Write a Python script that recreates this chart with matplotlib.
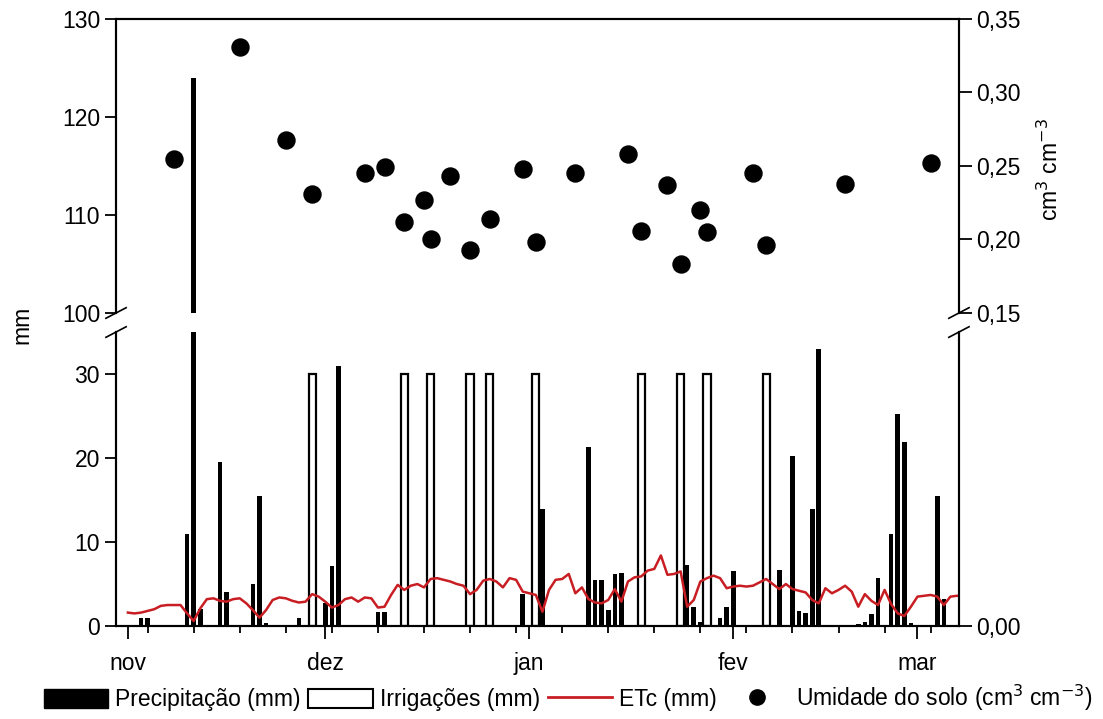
import matplotlib
matplotlib.use('Agg')
import matplotlib.pyplot as plt
from matplotlib.patches import Patch
from matplotlib.lines import Line2D

plt.rcParams['font.family'] = ['Liberation Sans', 'DejaVu Sans']
plt.rcParams['font.size'] = 16.5

# days counted from 1 November
month_days = [0, 30, 61, 92, 120]
month_labels = ['nov', 'dez', 'jan', 'fev', 'mar']

precip_days = [2, 3, 9, 10, 11, 14, 15, 19, 20, 21, 26, 30, 31, 32, 38, 39,
               60, 63, 70, 71, 72, 73, 74, 75, 85, 86, 87, 90, 91, 92, 93, 94,
               99, 101, 102, 103, 104, 105, 111, 112, 113, 114, 116, 117, 118,
               119, 123, 124]
precip_mm = [1.0, 0.9, 11.0, 124.0, 2.0, 19.5, 4.1, 5.0, 15.5, 0.4, 1.0, 2.7,
             7.1, 30.9, 1.7, 1.7, 3.8, 13.9, 21.3, 5.5, 5.5, 1.9, 6.2, 6.3,
             7.3, 2.3, 0.5, 1.0, 2.3, 6.6, 0.1, 0.1, 6.7, 20.3, 1.8, 1.6,
             13.9, 33.0, 0.2, 0.5, 1.4, 5.7, 10.9, 25.3, 21.9, 0.4, 15.5, 3.2]

irrig_days = [28, 42, 46, 52, 55, 62, 78, 84, 88, 97]
irrig_mm = [30, 30, 30, 30, 30, 30, 30, 30, 30, 30]

etc_mm = [1.6, 1.5, 1.6, 1.8, 2.0, 2.4, 2.5, 2.5, 2.5, 1.5, 0.6, 2.1, 3.2, 3.3,
          3.0, 2.9, 3.2, 3.3, 2.7, 1.9, 1.0, 1.9, 3.1, 3.4, 3.3, 3.0, 2.8, 2.9,
          3.8, 3.5, 2.9, 2.2, 2.5, 3.2, 3.4, 2.9, 3.4, 3.3, 2.2, 2.3, 3.7, 4.9,
          4.3, 4.8, 5.0, 4.6, 5.6, 5.7, 5.5, 5.3, 5.0, 4.8, 3.8, 4.3, 5.4, 5.6,
          5.3, 4.6, 5.7, 5.5, 4.1, 3.9, 3.7, 1.7, 4.3, 5.5, 5.6, 6.2, 3.9, 4.6,
          3.2, 2.8, 2.7, 3.1, 4.4, 2.9, 5.3, 5.8, 5.9, 6.6, 6.8, 8.4, 6.1, 6.2,
          6.5, 2.3, 3.1, 5.3, 5.7, 6.0, 5.7, 4.5, 4.7, 4.8, 4.7, 4.8, 5.2, 5.6,
          5.0, 4.4, 5.0, 4.4, 4.2, 4.0, 3.1, 2.7, 4.5, 3.9, 4.3, 4.8, 4.1, 2.3,
          3.8, 3.0, 2.5, 4.3, 2.6, 1.5, 1.2, 2.3, 3.5, 3.6, 3.7, 3.5, 2.5, 3.5,
          3.6]
etc_days = list(range(len(etc_mm)))

moist_days = [7, 17, 24, 28, 36, 39, 42, 45, 46, 49, 52, 55, 60, 62, 68, 76,
              78, 82, 84, 87, 88, 95, 97, 109, 122]
moist_vals = [0.255, 0.331, 0.268, 0.231, 0.245, 0.249, 0.212, 0.227, 0.200,
              0.243, 0.193, 0.214, 0.248, 0.198, 0.245, 0.258, 0.206, 0.237,
              0.183, 0.220, 0.205, 0.245, 0.196, 0.238, 0.252]

etc_color = '#c81e23'

fig = plt.figure(figsize=(11.03, 7.19), dpi=100)
ax_top = fig.add_axes([0.1052, 0.5647, 0.7642, 0.4089])
ax_bot = fig.add_axes([0.1052, 0.1293, 0.7642, 0.4089])

for ax in (ax_top, ax_bot):
    ax.bar(precip_days, precip_mm, width=0.7, color='black', zorder=2)
    ax.bar(irrig_days, irrig_mm, width=1.1, facecolor='white',
           edgecolor='black', linewidth=1.6, zorder=1)
    ax.plot(etc_days, etc_mm, color=etc_color, lw=1.8, zorder=3)
    ax.set_xlim(-1.8, 126.3)

ax_top.set_ylim(100, 130)
ax_top.set_yticks([100, 110, 120, 130])
ax_bot.set_ylim(0, 35)
ax_bot.set_yticks([0, 10, 20, 30])

ax_top.spines['bottom'].set_visible(False)
ax_bot.spines['top'].set_visible(False)
ax_top.tick_params(axis='x', which='both', bottom=False, labelbottom=False)

ax_bot.set_xticks(month_days)
ax_bot.set_xticklabels(month_labels)
ax_bot.set_xticks(list(range(3, 126, 7)), minor=True)
ax_bot.tick_params(axis='x', which='major', length=9, width=1.3, pad=10)
ax_bot.tick_params(axis='x', which='minor', length=5, width=1.3)
for ax in (ax_top, ax_bot):
    ax.tick_params(axis='y', length=8, width=1.3)
    for s in ax.spines.values():
        s.set_linewidth(1.5)

# soil moisture on right axis
ax_top_r = ax_top.twinx()
ax_top_r.set_ylim(0.15, 0.35)
ax_top_r.set_yticks([0.15, 0.20, 0.25, 0.30, 0.35])
ax_top_r.set_yticklabels(['0,15', '0,20', '0,25', '0,30', '0,35'])
ax_top_r.scatter(moist_days, moist_vals, s=150, color='black', zorder=4)
ax_top_r.spines['bottom'].set_visible(False)
ax_top_r.tick_params(axis='y', length=9, width=1.3)

ax_bot_r = ax_bot.twinx()
ax_bot_r.set_ylim(0, 1)
ax_bot_r.set_yticks([0])
ax_bot_r.set_yticklabels(['0,00'])
ax_bot_r.spines['top'].set_visible(False)
ax_bot_r.tick_params(axis='y', length=9, width=1.3)
for ax in (ax_top_r, ax_bot_r):
    for s in ax.spines.values():
        s.set_linewidth(1.5)

# break marks
d = 0.012
kw = dict(color='black', lw=1.2, clip_on=False)
for x0 in (0, 1):
    ax_top.plot([x0 - d, x0 + d], [-d * 1.5, d * 1.5], transform=ax_top.transAxes, **kw)
    ax_bot.plot([x0 - d, x0 + d], [1 - d * 1.5, 1 + d * 1.5], transform=ax_bot.transAxes, **kw)

fig.text(0.02, 1 - 325 / 719, 'mm', rotation=90, va='center', ha='center')
fig.text(1050 / 1103, 1 - 170 / 719, 'cm$^3$ cm$^{-3}$', rotation=90,
         va='center', ha='center')

handles = [Patch(facecolor='black', edgecolor='black'),
           Patch(facecolor='white', edgecolor='black', linewidth=1.5),
           Line2D([], [], color=etc_color, lw=2),
           Line2D([], [], marker='o', color='black', linestyle='none', markersize=11)]
labels = ['Precipitação (mm)', 'Irrigações (mm)', 'ETc (mm)',
          'Umidade do solo (cm$^3$ cm$^{-3}$)']
fig.legend(handles, labels, loc='center', bbox_to_anchor=(0.515, 1 - 698 / 719),
           ncol=4, frameon=False, handlelength=2.8, handleheight=0.9,
           handletextpad=0.3, columnspacing=0.35)

fig.savefig('out.png', dpi=100)
